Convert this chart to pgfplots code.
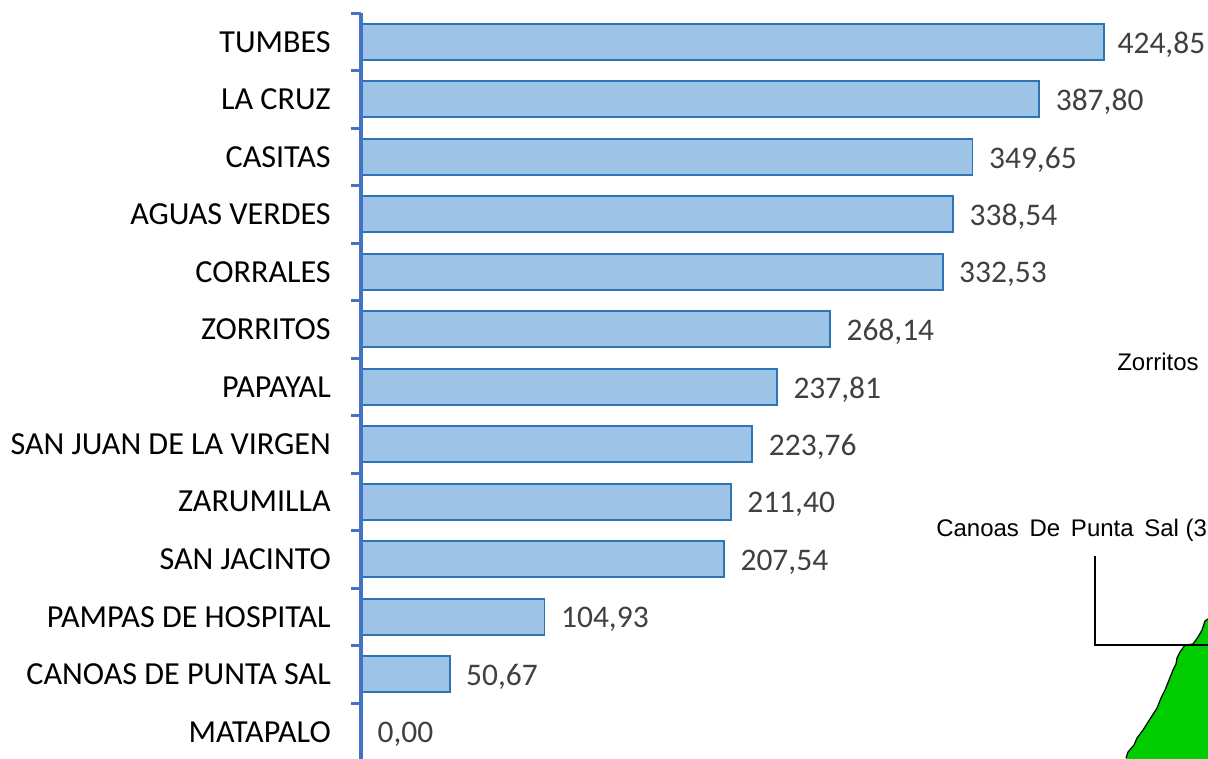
\documentclass[border=0pt]{standalone}
\usepackage{pgfplots}
\pgfplotsset{compat=1.18}
\usepackage{fontspec}
\setmainfont{Carlito}
\newfontfamily\arialf{Liberation Sans}
\definecolor{axisblue}{HTML}{4472C4}
\definecolor{barfill}{HTML}{9DC3E6}
\definecolor{baredge}{HTML}{2E75B6}
\definecolor{vallabel}{HTML}{404040}
\definecolor{mapgreen}{HTML}{00CC00}
\begin{document}
\begin{tikzpicture}
\clip (0,0) rectangle (906pt,568.5pt);
\begin{axis}[
  at={(270.75pt,-1.875pt)}, anchor=south west,
  scale only axis, width=635.25pt, height=560.625pt,
  xmin=0, xmax=484.3, ymin=-0.5, ymax=12.5, y dir=reverse,
  axis x line=none, axis y line=left, axis line style={-, axisblue, line width=2.5pt},
  axis on top,
  clip=false,
  xbar, bar width=27pt,
  ytick={0,1,2,3,4,5,6,7,8,9,10,11,12},
  yticklabels={TUMBES,LA CRUZ,CASITAS,AGUAS VERDES,CORRALES,ZORRITOS,PAPAYAL,SAN JUAN DE LA VIRGEN,ZARUMILLA,SAN JACINTO,PAMPAS DE HOSPITAL,CANOAS DE PUNTA SAL,MATAPALO},
  major tick length=0pt,
  minor ytick={-0.5,0.5,1.5,2.5,3.5,4.5,5.5,6.5,7.5,8.5,9.5,10.5,11.5},
  minor tick length=7.5pt,
  tick align=outside, tick pos=left,
  ytick style={axisblue, line width=2.25pt},
  yticklabel style={font=\fontsize{24.1}{28}\selectfont, color=black, inner sep=0pt, anchor=east, xshift=-22.5pt},
  nodes near coords,
  every node near coord/.append style={font=\fontsize{23.6}{27}\selectfont, color=vallabel, inner sep=0pt, anchor=west, xshift=11.75pt, yshift=-2pt},
  coordinate style/.condition={x>400}{xshift=-2.25pt},
  /pgf/number format/.cd, fixed, fixed zerofill, precision=2, use comma, 1000 sep={}, assume math mode=true,
]
\addplot[fill=barfill, draw=baredge, line width=1.4pt] coordinates {
(424.85,0) (387.80,1) (349.65,2) (338.54,3) (332.53,4) (268.14,5) (237.81,6)
(223.76,7) (211.40,8) (207.54,9) (104.93,10) (50.67,11) (0.00,12)};
\end{axis}
\begin{axis}[
  at={(0pt,0pt)}, anchor=south west, scale only axis, width=906pt, height=568.5pt,
  xmin=0, xmax=1208, ymin=0, ymax=758, y dir=reverse, hide axis, clip=true,
]
\addplot[fill=mapgreen, draw=black, line width=0.9pt] coordinates {
(1126,758) (1128,752) (1134,745) (1137,738) (1143,730) (1150,719) (1157,708) (1161,698) (1165,690) (1169,680) (1173,670) (1176,664) (1177,658) (1180,652) (1185,645) (1193,644) (1198,637) (1202,630) (1205,621) (1208,619) (1210,619) (1210,760) (1126,760)};
\addplot[draw=black, line width=1.5pt] coordinates {(1095,556) (1095,645) (1210,645)};
\node[font=\arialf\fontsize{18}{21}\selectfont, anchor=base west, inner sep=0pt] at (axis cs:1117,370) {Zorritos};
\node[font=\arialf\fontsize{18}{21}\selectfont, anchor=base west, inner sep=0pt] at (axis cs:936,536) {Canoas\hspace{3pt} De\hspace{3pt} Punta\hspace{3pt} Sal (3};
\end{axis}
\end{tikzpicture}
\end{document}
